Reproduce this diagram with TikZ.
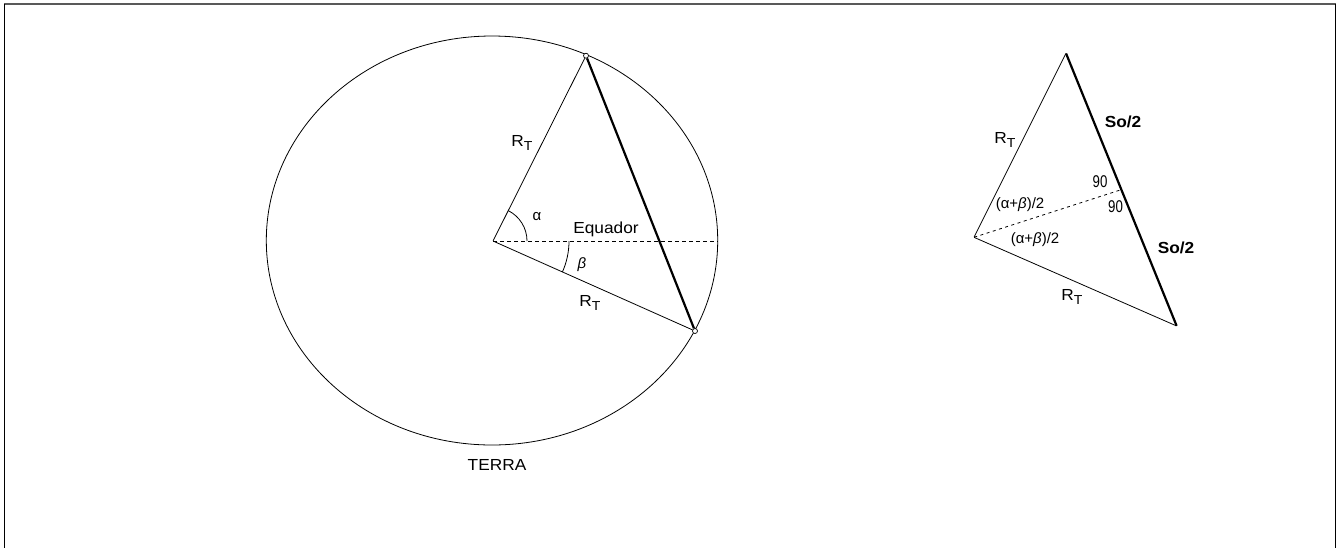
\documentclass[tikz,border=0pt]{standalone}
\usepackage{fontspec}
\usetikzlibrary{calc}
\setmainfont{Liberation Sans}
\newfontfamily\narrowfont[FakeStretch=0.78]{Liberation Sans}
\newfontfamily\widefont[FakeStretch=1.08]{Liberation Sans}
\newcommand{\rsubt}{R\raisebox{-0.45ex}{\fontsize{13}{15}\selectfont T}}
\begin{document}
\begin{tikzpicture}[x=1pt,y=1pt,
  thinline/.style={line width=0.8pt},
  boldline/.style={line width=2.2pt},
  eqdash/.style={line width=0.8pt, dash pattern=on 4pt off 3pt},
  tridash/.style={line width=0.8pt, dash pattern=on 3pt off 3.5pt},
  endpt/.style={circle, draw, line width=0.7pt, fill=white, inner sep=0pt, minimum size=5pt},
  vtx/.style={inner sep=0pt, minimum size=0pt},
  lbl/.style={font=\widefont\fontsize{16}{19}\selectfont, inner sep=0pt},
  blbl/.style={font=\widefont\bfseries\fontsize{16}{19}\selectfont, inner sep=0pt},
  slbl/.style={font=\narrowfont\fontsize{17}{20}\selectfont, inner sep=0pt},
  glbl/.style={font=\fontsize{15}{18}\selectfont, inner sep=0pt}]
\useasboundingbox (0,0) rectangle (1340,-547);
% frame
\draw[line width=1.5pt, black!65] (4,-4) -- (1335.5,-4);
\draw[line width=1.8pt] (4.5,-4) -- (4.5,-560);
\draw[line width=1.8pt] (1335.5,-4) -- (1335.5,-560);
% earth
\coordinate (C) at (492,-240.5);
\draw[thinline] (C) ellipse [x radius=225.7, y radius=204.5];
\node[vtx] (O) at (493,-241) {};
\coordinate (E) at (717.5,-241);
\node[endpt] (A) at (586,-55.7) {};
\node[endpt] (B) at (695,-331) {};
\draw[thinline] (O) -- (A);
\draw[thinline] (O) -- (B);
\draw[boldline] (A) -- (B);
\draw[eqdash] (O) -- (E);
\draw[thinline] ([shift={(0:34)}]O.center) arc[start angle=0, end angle=63.3, radius=34];
\draw[thinline] ([shift={(0:76)}]O.center) arc[start angle=0, end angle=-24, radius=76];
\node[glbl] (alpha) at (537,-217) {α};
\node[glbl] (beta) at (582,-265) {\itshape β};
\node[lbl] (eq) at (606,-229) {Equador};
\node[lbl] (rt1) at (522,-143) {\rsubt};
\node[lbl] (rt2) at (590,-303) {\rsubt};
\node[lbl] (terra) at (497,-465) {TERRA};
% triangle
\node[vtx] (P) at (1066,-53.3) {};
\node[vtx] (Q) at (974,-237.3) {};
\node[vtx] (R) at (1176.7,-326) {};
\coordinate (M) at ($(P)!0.5!(R)$);
\draw[thinline] (P) -- (Q) -- (R);
\draw[boldline] (P) -- (R);
\draw[tridash] (Q) -- (M);
\node[blbl] (so1) at (1123,-122) {So/2};
\node[blbl] (so2) at (1176,-248) {So/2};
\node[lbl] (rt3) at (1005,-140) {\rsubt};
\node[lbl] (rt4) at (1072,-297) {\rsubt};
\node[slbl] (n1) at (1100,-181.5) {90};
\node[slbl] (n2) at (1115.5,-207) {90};
\node[glbl] (ab1) at (1020,-205) {(α+\textit{β})/2};
\node[glbl] (ab2) at (1035,-240) {(α+\textit{β})/2};
\end{tikzpicture}
\end{document}
